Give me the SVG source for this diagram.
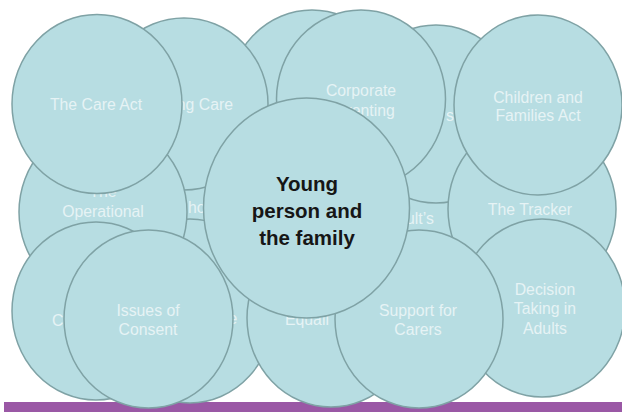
<svg xmlns="http://www.w3.org/2000/svg" width="622" height="412" viewBox="0 0 622 412">
  <style>
    .bubble { fill: #b7dde2; stroke: #7fa2a5; stroke-width: 1.5; }
    .lbl { font-family: "Liberation Sans", Arial, sans-serif; font-size: 15.8px; fill: #e6f3f5; text-anchor: middle; }
    .frag { text-anchor: start; }
    .fragEnd { text-anchor: end; }
    .hub { font-family: "Liberation Sans", Arial, sans-serif; font-size: 20.5px; font-weight: bold; fill: #161616; text-anchor: middle; }
  </style>

  <!-- footer band -->
  <rect x="4" y="402" width="618" height="10" fill="#9a58a5"/>

  <!-- back row of bubbles, partly covered -->
  <g id="node-ho">
    <ellipse class="bubble" cx="196" cy="200" rx="84" ry="89"/>
    <text class="lbl frag" x="188" y="213">ho</text>
  </g>
  <g id="node-top-hidden">
    <ellipse class="bubble" cx="312" cy="99" rx="84" ry="89"/>
  </g>
  <g id="node-leaving-care">
    <ellipse class="bubble" cx="184" cy="104" rx="84" ry="86"/>
    <text class="lbl fragEnd" x="233" y="109.5">ng Care</text>
  </g>
  <g id="node-adults">
    <ellipse class="bubble" cx="425" cy="215" rx="84" ry="89"/>
    <text class="lbl frag" x="406" y="224">ult’s</text>
  </g>
  <g id="node-s">
    <ellipse class="bubble" cx="436" cy="114" rx="84" ry="89"/>
    <text class="lbl frag" x="446" y="121">s</text>
  </g>
  <g id="node-e">
    <ellipse class="bubble" cx="190" cy="311" rx="84" ry="92"/>
    <text class="lbl frag" x="228.5" y="323.5">e</text>
  </g>
  <g id="node-operational">
    <ellipse class="bubble" cx="103" cy="212" rx="84" ry="89"/>
    <text class="lbl" x="103" y="197">The</text>
    <text class="lbl" x="103" y="216.5">Operational</text>
  </g>
  <g id="node-c">
    <ellipse class="bubble" cx="96" cy="311" rx="84" ry="89"/>
    <text class="lbl frag" x="52" y="326">C</text>
  </g>
  <g id="node-consent">
    <ellipse class="bubble" cx="148.5" cy="319" rx="84.5" ry="89"/>
    <text class="lbl" x="148" y="315.5">Issues of</text>
    <text class="lbl" x="148" y="335">Consent</text>
  </g>
  <g id="node-care-act">
    <ellipse class="bubble" cx="97" cy="104" rx="85" ry="89.5"/>
    <text class="lbl" x="96" y="109.5">The Care Act</text>
  </g>
  <g id="node-tracker">
    <ellipse class="bubble" cx="532" cy="209" rx="84" ry="89"/>
    <text class="lbl" x="530" y="214.5">The Tracker</text>
  </g>
  <g id="node-corporate">
    <ellipse class="bubble" cx="361" cy="99" rx="84.5" ry="89"/>
    <text class="lbl" x="361" y="95.5">Corporate</text>
    <text class="lbl" x="361" y="115.5">Parenting</text>
  </g>
  <g id="node-children-families">
    <ellipse class="bubble" cx="538" cy="105" rx="84" ry="90"/>
    <text class="lbl" x="538" y="102.5">Children and</text>
    <text class="lbl" x="538" y="121">Families Act</text>
  </g>
  <g id="node-equality">
    <ellipse class="bubble" cx="331" cy="318" rx="84" ry="89"/>
    <text class="lbl frag" x="285" y="325">Equali</text>
  </g>
  <g id="node-decision">
    <ellipse class="bubble" cx="542" cy="308" rx="83" ry="89"/>
    <text class="lbl" x="545" y="294.5">Decision</text>
    <text class="lbl" x="545" y="314">Taking in</text>
    <text class="lbl" x="545" y="333.5">Adults</text>
  </g>
  <g id="node-carers">
    <ellipse class="bubble" cx="419" cy="319" rx="84" ry="89"/>
    <text class="lbl" x="418" y="315.5">Support for</text>
    <text class="lbl" x="418" y="334.5">Carers</text>
  </g>

  <!-- central bubble on top -->
  <g id="node-young-person">
    <ellipse class="bubble" cx="306.5" cy="208" rx="103" ry="110"/>
    <text class="hub" x="307" y="191">Young</text>
    <text class="hub" x="307" y="218">person and</text>
    <text class="hub" x="307" y="245">the family</text>
  </g>

  <g id="connectors"></g>
</svg>
